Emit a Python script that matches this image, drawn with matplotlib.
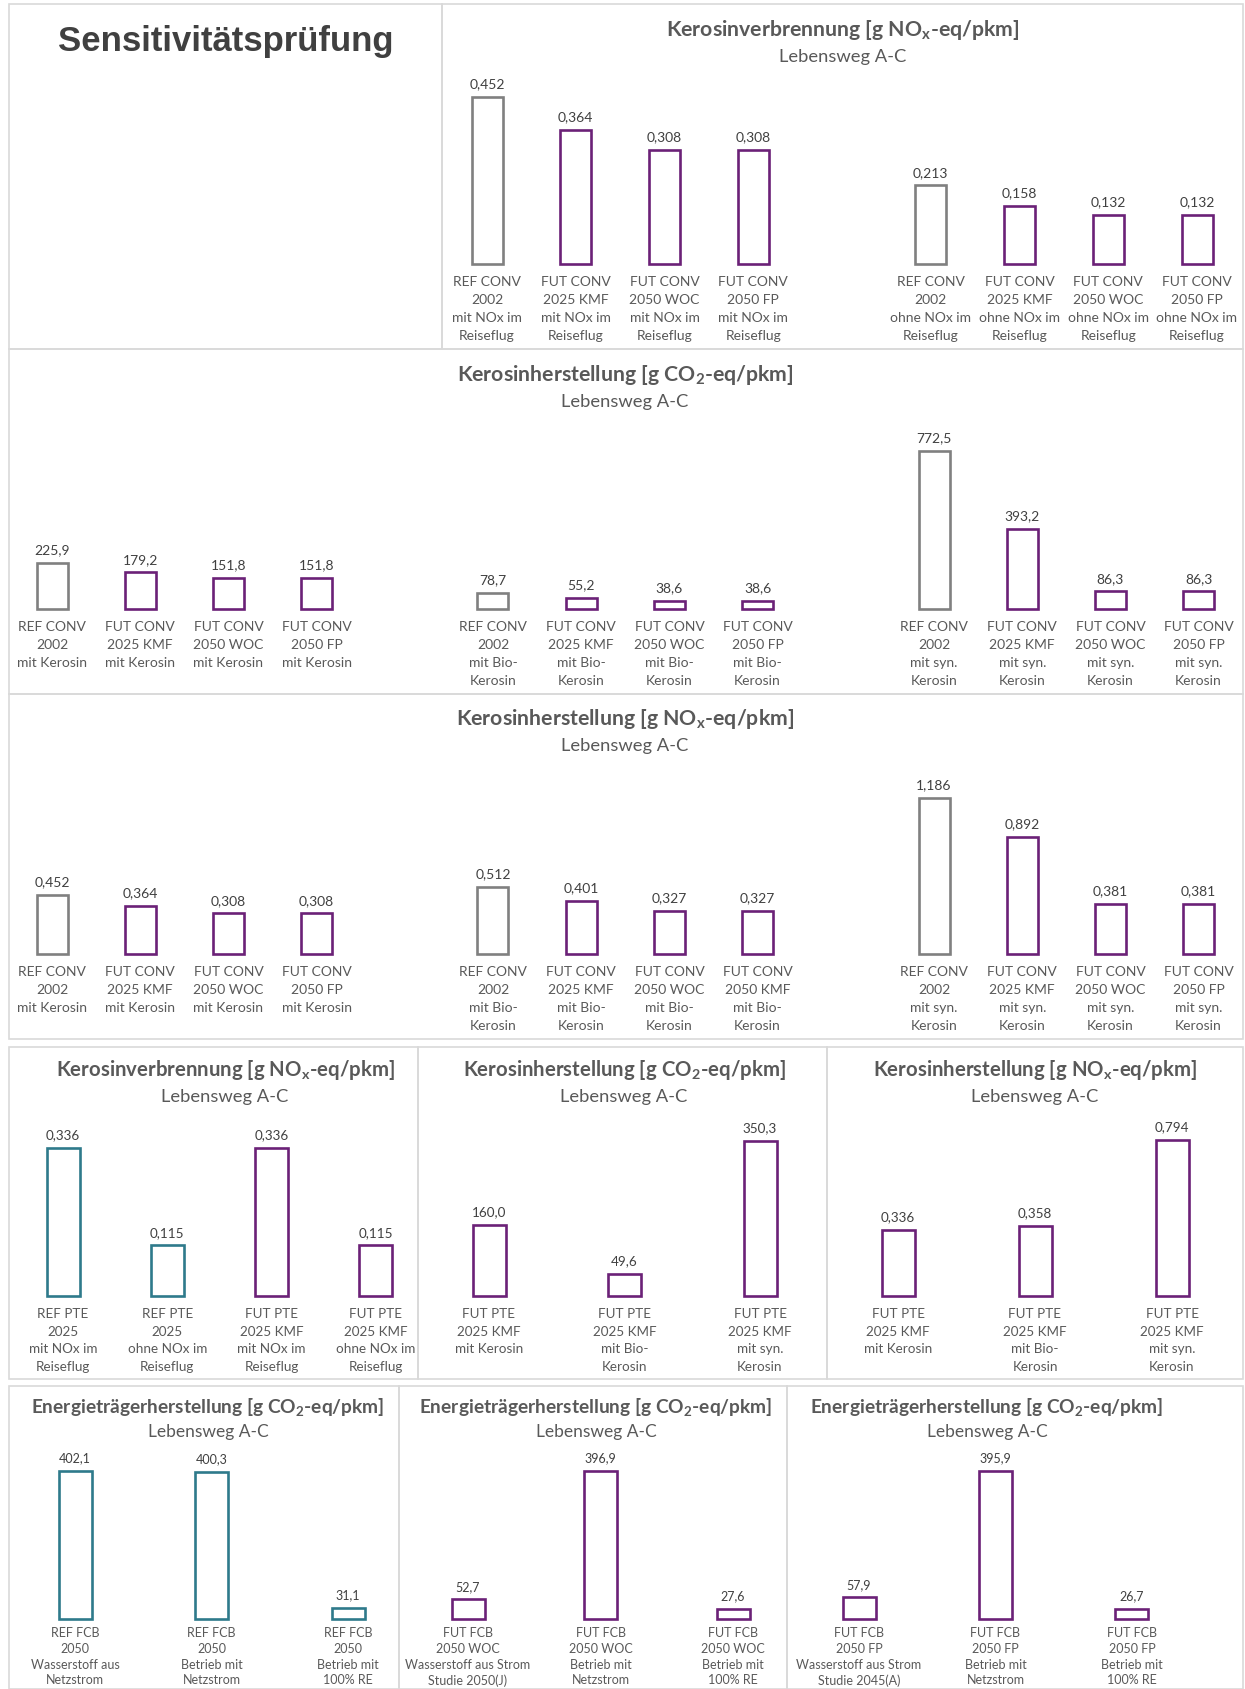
import matplotlib
matplotlib.use("Agg")
import matplotlib.pyplot as plt
from matplotlib.patches import Rectangle

plt.rcParams["font.family"] = ["Lato", "DejaVu Sans"]
plt.rcParams["mathtext.fontset"] = "custom"
plt.rcParams["mathtext.rm"] = "Lato"
plt.rcParams["mathtext.bf"] = "Lato:bold"

GREY = "#808080"
PURPLE = "#6b2177"
TEAL = "#2e7a8b"
TXT = "#595959"

# --- data -------------------------------------------------------------
p1_vals = [0.452, 0.364, 0.308, 0.308, 0.213, 0.158, 0.132, 0.132]
p1_labels = ["REF CONV\n2002\nmit NOx im\nReiseflug", "FUT CONV\n2025 KMF\nmit NOx im\nReiseflug",
             "FUT CONV\n2050 WOC\nmit NOx im\nReiseflug", "FUT CONV\n2050 FP\nmit NOx im\nReiseflug",
             "REF CONV\n2002\nohne NOx im\nReiseflug", "FUT CONV\n2025 KMF\nohne NOx im\nReiseflug",
             "FUT CONV\n2050 WOC\nohne NOx im\nReiseflug", "FUT CONV\n2050 FP\nohne NOx im\nReiseflug"]
p1_colors = [GREY, PURPLE, PURPLE, PURPLE, GREY, PURPLE, PURPLE, PURPLE]

p2_vals = [225.9, 179.2, 151.8, 151.8, 78.7, 55.2, 38.6, 38.6, 772.5, 393.2, 86.3, 86.3]
p3_vals = [0.452, 0.364, 0.308, 0.308, 0.512, 0.401, 0.327, 0.327, 1.186, 0.892, 0.381, 0.381]
p2_labels = ["REF CONV\n2002\nmit Kerosin", "FUT CONV\n2025 KMF\nmit Kerosin",
             "FUT CONV\n2050 WOC\nmit Kerosin", "FUT CONV\n2050 FP\nmit Kerosin",
             "REF CONV\n2002\nmit Bio-\nKerosin", "FUT CONV\n2025 KMF\nmit Bio-\nKerosin",
             "FUT CONV\n2050 WOC\nmit Bio-\nKerosin", "FUT CONV\n2050 FP\nmit Bio-\nKerosin",
             "REF CONV\n2002\nmit syn.\nKerosin", "FUT CONV\n2025 KMF\nmit syn.\nKerosin",
             "FUT CONV\n2050 WOC\nmit syn.\nKerosin", "FUT CONV\n2050 FP\nmit syn.\nKerosin"]
p3_labels = p2_labels[:7] + ["FUT CONV\n2050 KMF\nmit Bio-\nKerosin"] + p2_labels[8:]
p23_colors = [GREY, PURPLE, PURPLE, PURPLE] * 3

r4a_vals = [0.336, 0.115, 0.336, 0.115]
r4a_labels = ["REF PTE\n2025\nmit NOx im\nReiseflug", "REF PTE\n2025\nohne NOx im\nReiseflug",
              "FUT PTE\n2025 KMF\nmit NOx im\nReiseflug", "FUT PTE\n2025 KMF\nohne NOx im\nReiseflug"]
r4a_colors = [TEAL, TEAL, PURPLE, PURPLE]
r4b_vals = [160.0, 49.6, 350.3]
r4c_vals = [0.336, 0.358, 0.794]
r4_labels = ["FUT PTE\n2025 KMF\nmit Kerosin", "FUT PTE\n2025 KMF\nmit Bio-\nKerosin",
             "FUT PTE\n2025 KMF\nmit syn.\nKerosin"]

r5a_vals = [402.1, 400.3, 31.1]
r5a_labels = ["REF FCB\n2050\nWasserstoff aus\nNetzstrom", "REF FCB\n2050\nBetrieb mit\nNetzstrom",
              "REF FCB\n2050\nBetrieb mit\n100% RE"]
r5b_vals = [52.7, 396.9, 27.6]
r5b_labels = ["FUT FCB\n2050 WOC\nWasserstoff aus Strom\nStudie 2050(J)", "FUT FCB\n2050 WOC\nBetrieb mit\nNetzstrom",
              "FUT FCB\n2050 WOC\nBetrieb mit\n100% RE"]
r5c_vals = [57.9, 395.9, 26.7]
r5c_labels = ["FUT FCB\n2050 FP\nWasserstoff aus Strom\nStudie 2045(A)", "FUT FCB\n2050 FP\nBetrieb mit\nNetzstrom",
              "FUT FCB\n2050 FP\nBetrieb mit\n100% RE"]

T_NOX_VERB = r"Kerosinverbrennung [g NO$_\mathbf{x}$-eq/pkm]"
T_CO2_HERST = r"Kerosinherstellung [g CO$_\mathbf{2}$-eq/pkm]"
T_NOX_HERST = r"Kerosinherstellung [g NO$_\mathbf{x}$-eq/pkm]"
T_ENERGIE = r"Energieträgerherstellung [g CO$_\mathbf{2}$-eq/pkm]"
SUB = "Lebensweg A-C"

# --- layout helpers (pixel based) ------------------------------------
W, H = 1245, 1690
fig = plt.figure(figsize=(W / 100, H / 100), dpi=100)


def fx(x):
    return x / W


def fy(y):
    return 1 - y / H


def frame(x0, y0, x1, y1):
    fig.add_artist(Rectangle((fx(x0), fy(y1)), (x1 - x0) / W, (y1 - y0) / H,
                             transform=fig.transFigure, fill=False, ec="#d9d9d9", lw=1.2))


def titles(cx, cy, title, fs=15.3, sub_fs=13.2, gap=27):
    fig.text(fx(cx), fy(cy), title, ha="center", va="center", fontsize=fs,
             fontweight="bold", color=TXT)
    fig.text(fx(cx), fy(cy + gap), SUB, ha="center", va="center", fontsize=sub_fs, color=TXT)


def bars(slots, vals, labels, colors, c0, step, nslots, base, ref_px, fmt,
         fs=10, vfs=10, lsp=1.6, bw=31, pad=8):
    ax = fig.add_axes([fx(c0 - step / 2), fy(base), nslots * step / W, ref_px / H])
    cont = ax.bar(slots, vals, width=bw / step, color="white", edgecolor=colors, linewidth=1.9)
    for p in cont:
        p.set_clip_on(False)
    ax.set_xlim(-0.5, nslots - 0.5)
    ax.set_ylim(0, max(vals))
    ax.set_xticks(slots, labels)
    ax.tick_params(axis="x", length=0, pad=pad, labelsize=fs, labelcolor=TXT)
    ax.set_yticks([])
    for s in ax.spines.values():
        s.set_visible(False)
    ax.patch.set_alpha(0)
    for lab in ax.get_xticklabels():
        lab.set_linespacing(lsp)
    for s, v in zip(slots, vals):
        ax.annotate(fmt.format(v).replace(".", ","), (s, v), xytext=(0, 5.5),
                    textcoords="offset points", ha="center", va="bottom",
                    fontsize=vfs, color="#404040", annotation_clip=False)
    return ax


# --- frames -----------------------------------------------------------
frame(9, 5, 442, 350)
frame(442, 5, 1243, 350)
frame(9, 350, 1243, 695)
frame(9, 695, 1243, 1040)
frame(9, 1048, 418, 1380)
frame(418, 1048, 827, 1380)
frame(827, 1048, 1243, 1380)
frame(9, 1387, 399, 1690)
frame(399, 1387, 787, 1690)
frame(787, 1387, 1243, 1690)

fig.text(fx(226), fy(42), "Sensitivitätsprüfung", ha="center", va="center",
         fontsize=25, fontweight="bold", color="#404040", family="Liberation Sans")

# --- panel 1 ----------------------------------------------------------
titles(843, 30, T_NOX_VERB)
bars([0, 1, 2, 3, 5, 6, 7, 8], p1_vals, p1_labels, p1_colors,
     487, 88.75, 9, 265, 167, "{:.3f}")

# --- panel 2 / 3 ------------------------------------------------------
slots23 = [0, 1, 2, 3, 5, 6, 7, 8, 10, 11, 12, 13]
titles(625, 375, T_CO2_HERST)
bars(slots23, p2_vals, p2_labels, p23_colors, 52, 88.2, 14, 610, 158, "{:.1f}")
titles(625, 719, T_NOX_HERST)
bars(slots23, p3_vals, p3_labels, p23_colors, 52, 88.2, 14, 955, 156, "{:.3f}")

# --- row 4 ------------------------------------------------------------
titles(225, 1070, T_NOX_VERB, fs=14.7)
bars([0, 1, 2, 3], r4a_vals, r4a_labels, r4a_colors, 63, 104.3, 4, 1297, 148, "{:.3f}",
     fs=9.7, vfs=9.7, bw=33, lsp=1.55)
titles(624, 1070, T_CO2_HERST, fs=14.7)
bars([0, 1, 2], r4b_vals, r4_labels, [PURPLE] * 3, 489, 135.5, 3, 1297, 155, "{:.1f}",
     fs=9.7, vfs=9.7, bw=33, lsp=1.55)
titles(1035, 1070, T_NOX_HERST, fs=14.7)
bars([0, 1, 2], r4c_vals, r4_labels, [PURPLE] * 3, 898, 137, 3, 1297, 156, "{:.3f}",
     fs=9.7, vfs=9.7, bw=33, lsp=1.55)

# --- row 5 ------------------------------------------------------------
titles(208, 1408, T_ENERGIE, fs=13.8, sub_fs=12.5, gap=24)
bars([0, 1, 2], r5a_vals, r5a_labels, [TEAL] * 3, 75, 136.5, 3, 1620, 148, "{:.1f}",
     fs=9, vfs=9, lsp=1.38, bw=33, pad=5)
titles(596, 1408, T_ENERGIE, fs=13.8, sub_fs=12.5, gap=24)
bars([0, 1, 2], r5b_vals, r5b_labels, [PURPLE] * 3, 468, 132.5, 3, 1620, 148, "{:.1f}",
     fs=9, vfs=9, lsp=1.38, bw=33, pad=5)
titles(987, 1408, T_ENERGIE, fs=13.8, sub_fs=12.5, gap=24)
bars([0, 1, 2], r5c_vals, r5c_labels, [PURPLE] * 3, 859, 136.5, 3, 1620, 148, "{:.1f}",
     fs=9, vfs=9, lsp=1.38, bw=33, pad=5)

fig.savefig("out.png", dpi=100)
